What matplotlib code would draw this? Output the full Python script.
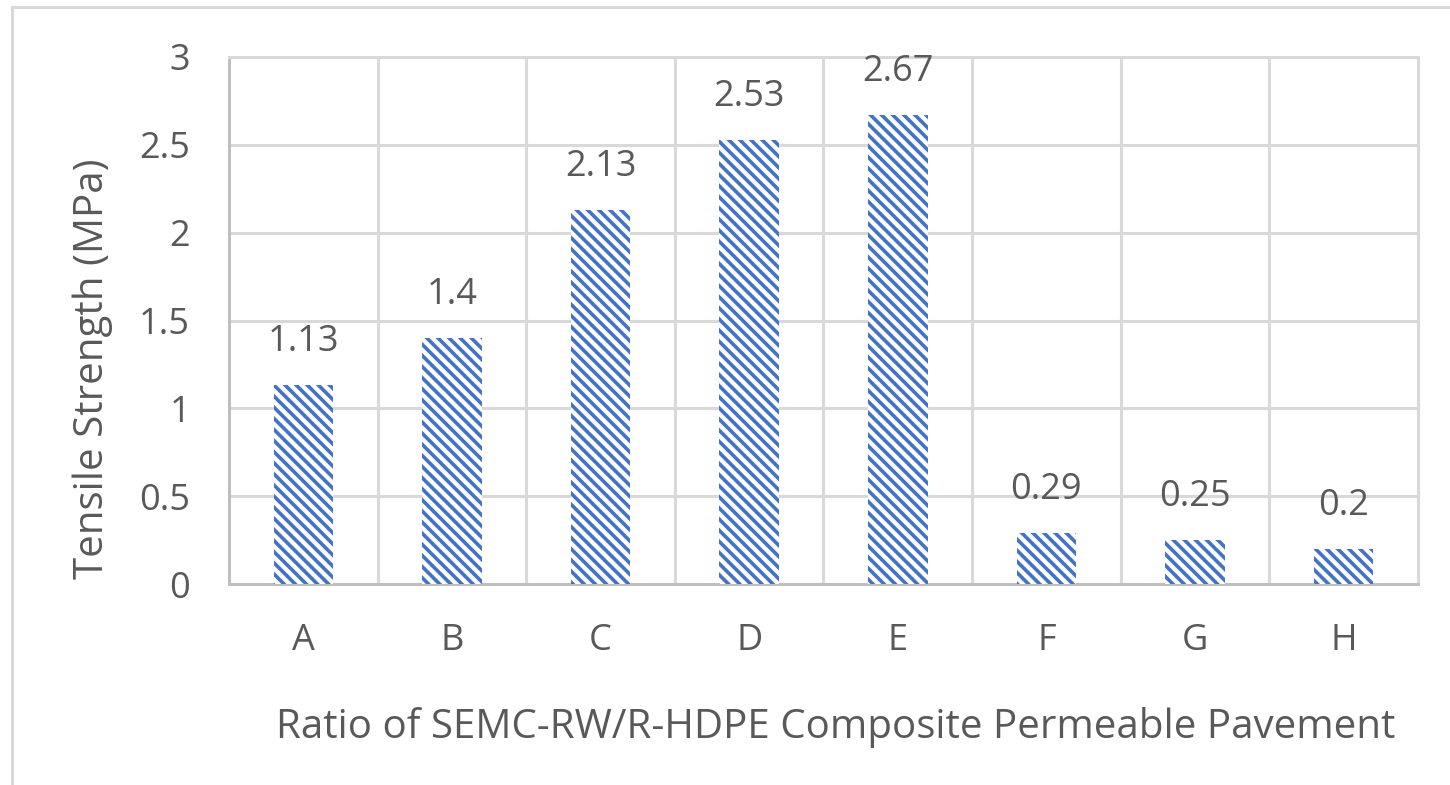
import matplotlib
matplotlib.use("Agg")
import matplotlib.pyplot as plt
from matplotlib.lines import Line2D

categories = ["A", "B", "C", "D", "E", "F", "G", "H"]
values = [1.13, 1.4, 2.13, 2.53, 2.67, 0.29, 0.25, 0.2]
labels = ["1.13", "1.4", "2.13", "2.53", "2.67", "0.29", "0.25", "0.2"]
yticks = [0, 0.5, 1, 1.5, 2, 2.5, 3]
ytick_labels = ["0", "0.5", "1", "1.5", "2", "2.5", "3"]
xlabel = "Ratio of SEMC-RW/R-HDPE Composite Permeable Pavement"
ylabel = "Tensile Strength (MPa)"

plt.rcParams['font.family'] = ['Open Sans', 'DejaVu Sans']
plt.rcParams['hatch.linewidth'] = 2.6
TXT = '#595959'
BLUE = '#4472C4'
GRID = '#d9d9d9'
FS = 26
FS_T = 29

fig = plt.figure(figsize=(14.5, 7.85), dpi=100)
ax = fig.add_axes([229/1450, 1-584/785, (1418-229)/1450, (584-57)/785])

x = list(range(len(categories)))
bars = ax.bar(x, values, width=0.4, facecolor='white', edgecolor=BLUE,
              hatch='\\\\\\', linewidth=0, zorder=3)

for xi, v, lab in zip(x, values, labels):
    ax.annotate(lab, (xi, v), xytext=(0, 18), textcoords='offset points',
                ha='center', va='bottom', fontsize=FS, color=TXT)

ax.set_xlim(-0.5, len(categories) - 0.5)
ax.set_ylim(0, 3)
ax.set_yticks(yticks)
ax.set_yticklabels(ytick_labels)
ax.set_xticks(x)
ax.set_xticklabels(categories)
ax.tick_params(axis='both', length=0, labelsize=FS, colors=TXT)
ax.tick_params(axis='y', pad=28)
ax.tick_params(axis='x', pad=28)

# gridlines
ax.yaxis.grid(True, color=GRID, linewidth=2.2, zorder=0)
for b in range(1, len(categories)):
    ax.axvline(b - 0.5, color=GRID, linewidth=2.2, zorder=0)
ax.set_axisbelow(True)

for s in ['top', 'right']:
    ax.spines[s].set_color(GRID)
    ax.spines[s].set_linewidth(2.2)
for s in ['left', 'bottom']:
    ax.spines[s].set_color('#bfbfbf')
    ax.spines[s].set_linewidth(2.2)

ax.set_xlabel(xlabel, fontsize=FS_T, color=TXT)
ax.xaxis.label.set_va('center')
ax.xaxis.set_label_coords(0.51, (584 - 727) / 527)
ax.set_ylabel(ylabel, fontsize=FS_T, color=TXT)
ax.yaxis.set_label_coords((113 - 229) / 1189, (584 - 369) / 527)

# outer chart border (cropped)
fig.add_artist(Line2D([12/1450, 12/1450], [0, 1-7/785], transform=fig.transFigure,
                      color=GRID, linewidth=2.2))
fig.add_artist(Line2D([12/1450, 1], [1-7/785, 1-7/785], transform=fig.transFigure,
                      color=GRID, linewidth=2.2))

fig.savefig("out.png", dpi=100)
